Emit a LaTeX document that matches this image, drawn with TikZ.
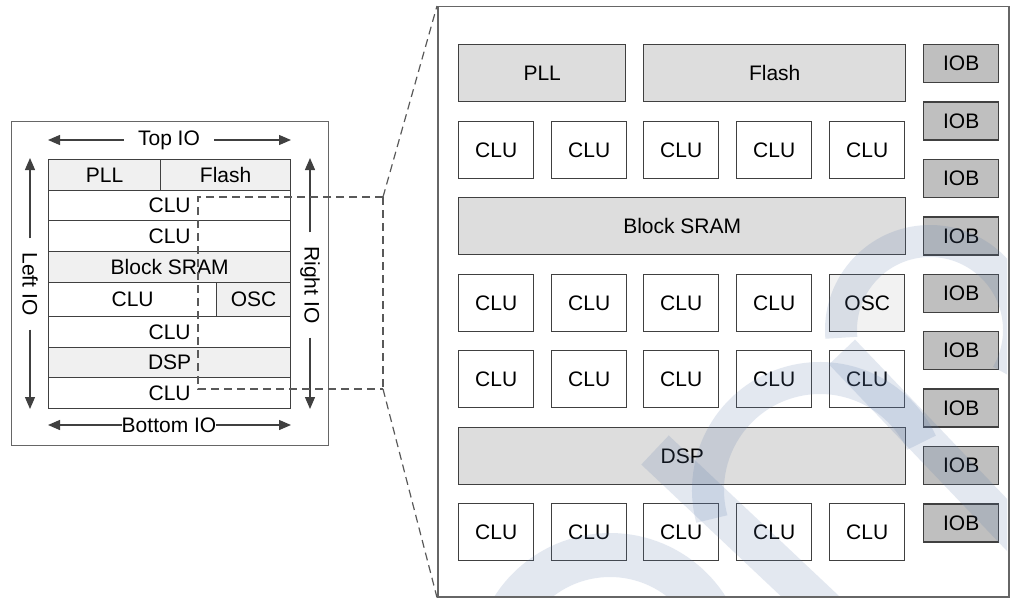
\documentclass[tikz,border=0pt]{standalone}
\usepackage{fontspec}
\setmainfont{Liberation Sans}
\usetikzlibrary{arrows.meta}
\definecolor{linec}{HTML}{404040}
\definecolor{framec}{HTML}{666666}
\definecolor{dashc}{HTML}{595959}
\definecolor{lgray}{HTML}{F0F0F0}
\definecolor{bgray}{HTML}{DDDDDD}
\definecolor{ogray}{HTML}{F2F2F2}
\definecolor{iobgray}{HTML}{BFBFBF}
\definecolor{wmblue}{RGB}{90,120,170}
\begin{document}
\begin{tikzpicture}[x=1pt,y=-1pt,
  font=\fontsize{21}{25}\selectfont,
  box/.style={draw=linec, line width=1.4pt, inner sep=0pt, anchor=north west, text=black},
  lrow/.style={draw=linec, line width=1.2pt, inner sep=0pt, anchor=north west, minimum width=242pt, minimum height=#1, text=black},
  clu/.style={box, fill=white, minimum width=75pt, minimum height=57pt},
  gblk/.style={box, fill=bgray, minimum height=57pt},
  iob/.style={box, fill=iobgray, minimum width=75pt, minimum height=38pt},
  arr/.style={draw=linec, line width=1.3pt, -{Triangle[length=12pt,width=10pt]}},
  dsh/.style={draw=dashc, line width=1.2pt, dash pattern=on 8pt off 5pt},
  wm/.style={draw=wmblue, draw opacity=0.17, line cap=butt}]
\useasboundingbox (0,0) rectangle (1016,599);
% ---------- left overview ----------
\node[draw=framec, line width=1.3pt, anchor=north west, minimum width=317pt, minimum height=324pt, inner sep=0pt] (lbox) at (11,121) {};
\node[lrow=31pt, minimum width=112pt, fill=lgray] (lpll) at (48,159) {PLL};
\node[lrow=31pt, minimum width=130pt, fill=lgray] (lflash) at (160,159) {Flash};
\node[lrow=30pt, fill=white] (lclu1) at (48,190) {CLU};
\node[lrow=31pt, fill=white] (lclu2) at (48,220) {CLU};
\node[lrow=31pt, fill=lgray] (lsram) at (48,251) {Block SRAM};
\node[lrow=34pt, minimum width=168pt, fill=white] (lclu3) at (48,282) {CLU};
\node[lrow=34pt, minimum width=74pt, fill=lgray] (losc) at (216,282) {OSC};
\node[lrow=31pt, fill=white] (lclu4) at (48,316) {CLU};
\node[lrow=30pt, fill=lgray] (ldsp) at (48,347) {DSP};
\node[lrow=31pt, fill=white] (lclu5) at (48,377) {CLU};
% IO arrows
\node[inner xsep=14pt, inner ysep=0pt] (topio) at (169,140) {Top IO};
\coordinate (tl) at (48,140); \coordinate (tr) at (291,140);
\draw[arr] (topio) -- (tl); \draw[arr] (topio) -- (tr);
\node[inner sep=0pt] (botio) at (169,425) {Bottom IO};
\coordinate (bl) at (48,425); \coordinate (br) at (291,425);
\draw[arr] (botio) -- (bl); \draw[arr] (botio) -- (br);
\node[rotate=-90, inner xsep=14pt, inner ysep=0pt] (leftio) at (30,284) {Left IO};
\coordinate (lt) at (30,158); \coordinate (lb) at (30,409);
\draw[arr] (leftio) -- (lt); \draw[arr] (leftio) -- (lb);
\node[rotate=-90, inner xsep=14pt, inner ysep=0pt] (rightio) at (310,285) {Right IO};
\coordinate (rt) at (310,158); \coordinate (rb) at (310,409);
\draw[arr] (rightio) -- (rt); \draw[arr] (rightio) -- (rb);
% ---------- right detail ----------
\node[draw=framec, line width=1.5pt, anchor=north west, minimum width=571pt, minimum height=590pt, inner sep=0pt, fill=white] (big) at (437,6) {};
\node[gblk, minimum width=167pt] (pll) at (458,44) {PLL};
\node[gblk, minimum width=262pt] (flash) at (643,44) {Flash};
\foreach \r/\y in {1/121,3/350,4/503} {
  \foreach \c/\x in {1/458,2/551,3/643,4/736,5/829} {
    \node[clu] (clu\r\c) at (\x,\y) {CLU};
  }
}
\foreach \c/\x in {1/458,2/551,3/643,4/736} {
  \node[clu] (clu2\c) at (\x,274) {CLU};
}
\node[clu, fill=ogray] (osc) at (829,274) {OSC};
\node[gblk, minimum width=447pt] (sram) at (458,197) {Block SRAM};
\node[gblk, minimum width=447pt] (dsp) at (458,427) {DSP};
\foreach \i in {0,...,8} {
  \node[iob] (iob\i) at (923,{44+57.4*\i}) {IOB};
}
% ---------- zoom lines ----------
\coordinate (d1) at (198,197);
\coordinate (d2) at (383,197);
\coordinate (d3) at (383,389);
\coordinate (d4) at (198,389);
\draw[dsh] (d2) -- (d1) -- (d4) -- (d3);
\draw[dsh] (d2) -- (d3);
\draw[dsh] (d2) -- (big.north west);
\draw[dsh] (d3) -- (big.south west);
% ---------- watermark ----------
\begin{scope}
\clip (438,7) rectangle (1007,595);
\draw[wm, line width=32pt] (930,330) ++(-185:89) arc[start angle=-185, end angle=30, radius=89];
\draw[wm, line width=36pt] (842,352) -- (1050,570);
\draw[wm, line width=32pt] (820,490) ++(-195:112) arc[start angle=-195, end angle=-25, radius=112];
\draw[wm, line width=40pt] (655,450) -- (830,615);
\draw[wm, line width=44pt] (610,670) ++(-180:115) arc[start angle=-180, end angle=0, radius=115];
\end{scope}
\end{tikzpicture}
\end{document}
